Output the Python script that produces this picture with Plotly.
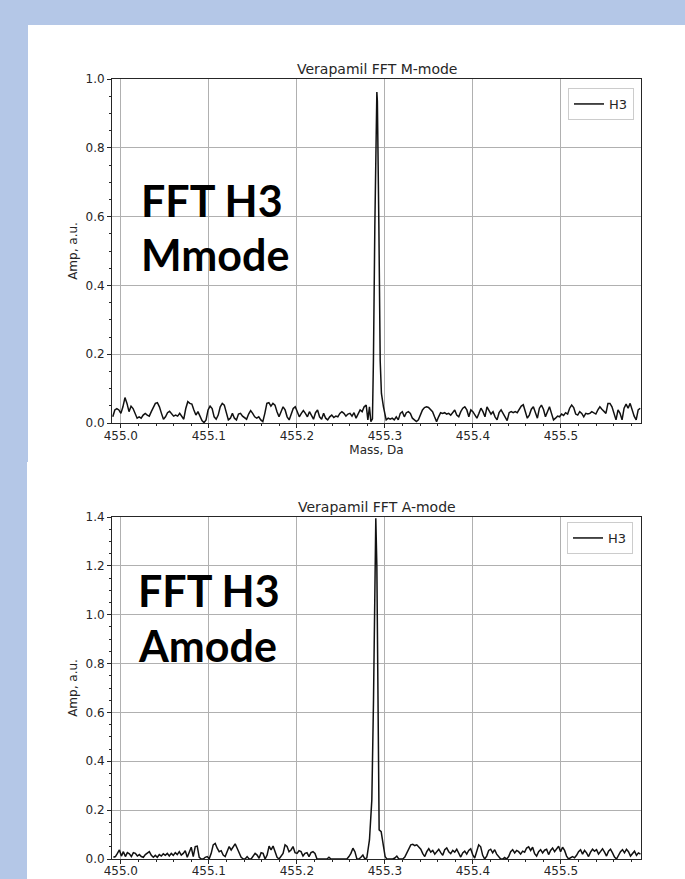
import numpy as np
import plotly.graph_objects as go

# ---------------- data (mass in Da, amplitude in a.u.) ----------------
# M-mode spectrum: noise left of the peak, the peak itself, noise right of the peak
M_LEFT_RANGE = (454.9909, 455.2788)
M_LEFT_AMP = [
    0.018, 0.038, 0.042, 0.038, 0.028, 0.047, 0.074, 0.057, 0.033, 0.049,
    0.042, 0.028, 0.014, 0.018, 0.014, 0.023, 0.028, 0.023, 0.020, 0.033,
    0.047, 0.057, 0.059, 0.047, 0.028, 0.011, 0.018, 0.030, 0.034, 0.026,
    0.020, 0.023, 0.020, 0.028, 0.018, 0.011, 0.042, 0.062, 0.057, 0.055,
    0.038, 0.023, 0.033, 0.018, 0.007, 0.001, 0.009, 0.038, 0.049, 0.042,
    0.018, 0.011, 0.023, 0.047, 0.057, 0.052, 0.033, 0.009, 0.014, 0.028,
    0.014, 0.009, 0.026, 0.028, 0.020, 0.014, 0.011, 0.026, 0.036, 0.028,
    0.018, 0.014, 0.018, 0.009, 0.004, 0.028, 0.057, 0.059, 0.049, 0.057,
    0.052, 0.033, 0.018, 0.033, 0.047, 0.038, 0.018, 0.009, 0.028, 0.042,
    0.047, 0.033, 0.018, 0.028, 0.036, 0.028, 0.018, 0.033, 0.023, 0.011,
    0.030, 0.038, 0.018, 0.011, 0.028, 0.014, 0.009, 0.018, 0.023, 0.016,
    0.020, 0.018, 0.028, 0.033, 0.028, 0.020, 0.026, 0.028, 0.020, 0.030,
    0.014, 0.028, 0.038, 0.033, 0.047, 0.052,
]
M_PEAK_MASS = [455.2807, 455.2825, 455.2841, 455.2859, 455.2870, 455.2886,
               455.2898, 455.2904, 455.2909, 455.2915, 455.2920, 455.2932,
               455.2947, 455.2961, 455.2984]
M_PEAK_AMP = [0.009, 0.047, 0.004, 0.012, 0.180, 0.570,
              0.860, 0.935, 0.962, 0.935, 0.860, 0.570,
              0.180, 0.086, 0.047]
M_RIGHT_RANGE = (455.3015, 455.5901)
M_RIGHT_AMP = [
    0.009, 0.014, 0.011, 0.014, 0.009, 0.018, 0.009, 0.028, 0.033, 0.018,
    0.030, 0.033, 0.028, 0.014, 0.009, 0.004, 0.009, 0.023, 0.038, 0.045,
    0.047, 0.045, 0.040, 0.033, 0.018, 0.004, 0.018, 0.030, 0.028, 0.030,
    0.026, 0.028, 0.023, 0.030, 0.038, 0.023, 0.018, 0.033, 0.043, 0.047,
    0.038, 0.018, 0.038, 0.033, 0.023, 0.014, 0.028, 0.043, 0.033, 0.018,
    0.047, 0.038, 0.026, 0.033, 0.018, 0.009, 0.030, 0.038, 0.028, 0.014,
    0.007, 0.030, 0.033, 0.030, 0.033, 0.030, 0.038, 0.049, 0.053, 0.033,
    0.014, 0.023, 0.040, 0.047, 0.033, 0.014, 0.043, 0.052, 0.040, 0.018,
    0.033, 0.047, 0.028, 0.009, 0.014, 0.020, 0.018, 0.026, 0.022, 0.030,
    0.026, 0.043, 0.052, 0.045, 0.026, 0.023, 0.033, 0.028, 0.018, 0.028,
    0.026, 0.028, 0.033, 0.030, 0.026, 0.038, 0.047, 0.040, 0.033, 0.028,
    0.057, 0.057, 0.047, 0.028, 0.009, 0.038, 0.028, 0.009, 0.043, 0.055,
    0.043, 0.057, 0.038, 0.020, 0.009, 0.038, 0.043,
]

# A-mode spectrum
A_LEFT_RANGE = (454.9916, 455.2773)
A_LEFT_AMP = [
    0.007, 0.010, 0.023, 0.037, 0.012, 0.030, 0.010, 0.026, 0.021, 0.010,
    0.026, 0.023, 0.012, 0.018, 0.010, 0.007, 0.018, 0.023, 0.030, 0.015,
    0.007, 0.015, 0.007, 0.018, 0.012, 0.021, 0.015, 0.023, 0.012, 0.023,
    0.015, 0.026, 0.018, 0.030, 0.016, 0.023, 0.034, 0.007, 0.030, 0.048,
    0.010, 0.051, 0.053, 0.007, 0.000, 0.000, 0.007, 0.010, 0.001, 0.023,
    0.058, 0.064, 0.044, 0.030, 0.034, 0.016, 0.010, 0.030, 0.051, 0.037,
    0.051, 0.062, 0.044, 0.023, 0.007, 0.001, 0.000, 0.010, 0.000, 0.000,
    0.010, 0.023, 0.016, 0.003, 0.026, 0.023, 0.000, 0.016, 0.053, 0.037,
    0.053, 0.030, 0.007, 0.000, 0.010, 0.023, 0.058, 0.051, 0.030, 0.037,
    0.051, 0.026, 0.023, 0.034, 0.030, 0.012, 0.023, 0.026, 0.010, 0.026,
    0.030, 0.023, 0.000, 0.000, 0.000, 0.000, 0.000, 0.000, 0.007, 0.000,
    0.000, 0.000, 0.000, 0.000, 0.000, 0.000, 0.000, 0.000, 0.010, 0.023,
    0.044, 0.030, 0.000, 0.000, 0.007, 0.016, 0.000,
]
A_PEAK_MASS = [455.2795, 455.2825, 455.2852, 455.2871, 455.2886, 455.2897,
               455.2909, 455.2920, 455.2928, 455.2935, 455.2958, 455.2973,
               455.2985, 455.3003, 455.3022]
A_PEAK_AMP = [0.005, 0.078, 0.242, 0.650, 1.200, 1.395,
              1.200, 0.650, 0.242, 0.119, 0.112, 0.085,
              0.051, 0.010, 0.000]
A_RIGHT_RANGE = (455.3045, 455.5904)
A_RIGHT_AMP = [
    0.000, 0.000, 0.000, 0.004, 0.012, 0.000, 0.000, 0.000, 0.008, 0.025,
    0.045, 0.058, 0.060, 0.055, 0.058, 0.050, 0.040, 0.022, 0.010, 0.030,
    0.042, 0.028, 0.035, 0.020, 0.032, 0.040, 0.026, 0.015, 0.038, 0.045,
    0.030, 0.022, 0.035, 0.028, 0.040, 0.020, 0.008, 0.025, 0.032, 0.020,
    0.035, 0.042, 0.018, 0.004, 0.030, 0.058, 0.050, 0.015, 0.000, 0.012,
    0.035, 0.040, 0.025, 0.038, 0.020, 0.008, 0.000, 0.000, 0.006, 0.000,
    0.010, 0.030, 0.038, 0.025, 0.035, 0.030, 0.020, 0.032, 0.028, 0.045,
    0.050, 0.035, 0.048, 0.022, 0.012, 0.030, 0.038, 0.025, 0.036, 0.040,
    0.018, 0.035, 0.045, 0.030, 0.040, 0.052, 0.030, 0.048, 0.035, 0.012,
    0.000, 0.004, 0.010, 0.005, 0.015, 0.030, 0.038, 0.020, 0.035, 0.025,
    0.010, 0.028, 0.040, 0.032, 0.038, 0.020, 0.030, 0.042, 0.028, 0.012,
    0.032, 0.040, 0.025, 0.008, 0.000, 0.015, 0.030, 0.038, 0.025, 0.040,
    0.030, 0.012, 0.020, 0.032, 0.015, 0.025, 0.020,
]

SERIES_NAME = "H3"
TITLES = ["Verapamil FFT M-mode", "Verapamil FFT A-mode"]
X_LABEL = "Mass, Da"
Y_LABEL = "Amp, a.u."
BADGES = [("FFT H3", "Mmode"), ("FFT H3", "Amode")]
X_RANGE = [454.990, 455.591]
Y_MAX = [1.0, 1.4]


def spectrum(left_range, left_amp, peak_mass, peak_amp, right_range, right_amp):
    mass = np.concatenate([
        np.linspace(left_range[0], left_range[1], len(left_amp)),
        np.array(peak_mass),
        np.linspace(right_range[0], right_range[1], len(right_amp)),
    ])
    amp = np.concatenate([left_amp, peak_amp, right_amp])
    return mass, amp


m_mass, m_amp = spectrum(M_LEFT_RANGE, M_LEFT_AMP, M_PEAK_MASS, M_PEAK_AMP,
                         M_RIGHT_RANGE, M_RIGHT_AMP)
a_mass, a_amp = spectrum(A_LEFT_RANGE, A_LEFT_AMP, A_PEAK_MASS, A_PEAK_AMP,
                         A_RIGHT_RANGE, A_RIGHT_AMP)

# ---------------- figure ----------------
W, H = 685, 879
ML, MR, MT, MB = 112, 44, 79, 20
PH = H - MT - MB  # plot area height in px


def py(y_px):
    """page pixel row -> paper y"""
    return 1 - (y_px - MT) / PH


def px(x_px):
    """page pixel column -> paper x"""
    return (x_px - ML) / (W - ML - MR)


INK = "#262626"
LINE = "#111111"
FONT = "DejaVu Sans"
TICK_FONT = dict(family=FONT, size=12, color=INK)

fig = go.Figure()
fig.add_trace(go.Scatter(x=m_mass, y=m_amp, mode="lines", name=SERIES_NAME,
                         line=dict(color=LINE, width=1.5),
                         xaxis="x", yaxis="y", legend="legend"))
fig.add_trace(go.Scatter(x=a_mass, y=a_amp, mode="lines", name=SERIES_NAME,
                         line=dict(color=LINE, width=1.5),
                         xaxis="x2", yaxis="y2", legend="legend2"))

axis_style = dict(
    showline=True, linecolor=INK, linewidth=1, mirror=True,
    ticks="outside", ticklen=4, tickwidth=1, tickcolor=INK,
    showgrid=True, gridcolor="#b0b0b0", gridwidth=1, zeroline=False,
    tickfont=TICK_FONT, automargin=False,
)
x_minor = dict(dtick=0.02, tick0=455.0, ticks="outside", ticklen=2,
               tickcolor=INK, showgrid=False)
y_minor = dict(dtick=0.05, tick0=0, ticks="outside", ticklen=2,
               tickcolor=INK, showgrid=False)

top_dom = [py(423), 1.0]
bot_dom = [0.0, py(517)]

fig.update_layout(
    width=W, height=H,
    margin=dict(l=ML, r=MR, t=MT, b=MB, autoexpand=False),
    paper_bgcolor="#B4C7E7",
    plot_bgcolor="white",
    font=dict(family=FONT, color=INK),
    xaxis=dict(axis_style, domain=[0, 1], anchor="y", range=X_RANGE,
               tick0=455.0, dtick=0.1, tickformat=".1f", minor=x_minor,
               ticklabelstandoff=-2,
               title=dict(text=X_LABEL, font=TICK_FONT, standoff=2)),
    yaxis=dict(axis_style, domain=top_dom, anchor="x", range=[0, Y_MAX[0]],
               tick0=0, dtick=0.2, tickformat=".1f", minor=y_minor,
               title=dict(text=Y_LABEL, font=TICK_FONT, standoff=5)),
    xaxis2=dict(axis_style, domain=[0, 1], anchor="y2", range=X_RANGE,
                tick0=455.0, dtick=0.1, tickformat=".1f", minor=x_minor,
                ticklabelstandoff=-3),
    yaxis2=dict(axis_style, domain=bot_dom, anchor="x2", range=[0, Y_MAX[1]],
                tick0=0, dtick=0.2, tickformat=".1f", minor=y_minor,
                title=dict(text=Y_LABEL, font=TICK_FONT, standoff=5)),
    legend=dict(x=px(634), y=py(88), xanchor="right", yanchor="top",
                bgcolor="white", bordercolor="#cccccc", borderwidth=1,
                font=dict(family=FONT, size=13, color=INK)),
    legend2=dict(x=px(633), y=py(522), xanchor="right", yanchor="top",
                 bgcolor="white", bordercolor="#cccccc", borderwidth=1,
                 font=dict(family=FONT, size=13, color=INK)),
    showlegend=True,
)

# white slide panels behind the two charts
fig.add_shape(type="rect", xref="paper", yref="paper", layer="below",
              x0=px(28), x1=px(W), y0=py(462), y1=py(25),
              fillcolor="white", line=dict(width=0))
fig.add_shape(type="rect", xref="paper", yref="paper", layer="below",
              x0=px(27), x1=px(W), y0=py(H), y1=py(462),
              fillcolor="white", line=dict(width=0))

# subplot titles
for title, y_px in zip(TITLES, [69, 507]):
    fig.add_annotation(text=title, xref="paper", yref="paper", x=0.5, y=py(y_px),
                       xanchor="center", yanchor="middle", showarrow=False,
                       font=dict(family=FONT, size=14, color=INK))

# large overlay captions
for (line1, line2), x_px, y1_px, y2_px in zip(BADGES, [139, 136], [200, 590], [255, 645]):
    for txt, y_px in [(line1, y1_px), (line2, y2_px)]:
        fig.add_annotation(text=f"<b>{txt}</b>", xref="paper", yref="paper",
                           x=px(x_px), y=py(y_px), xanchor="left", yanchor="middle",
                           showarrow=False,
                           font=dict(family="Lato", size=43, color="black"))

fig.write_html("out.html")
